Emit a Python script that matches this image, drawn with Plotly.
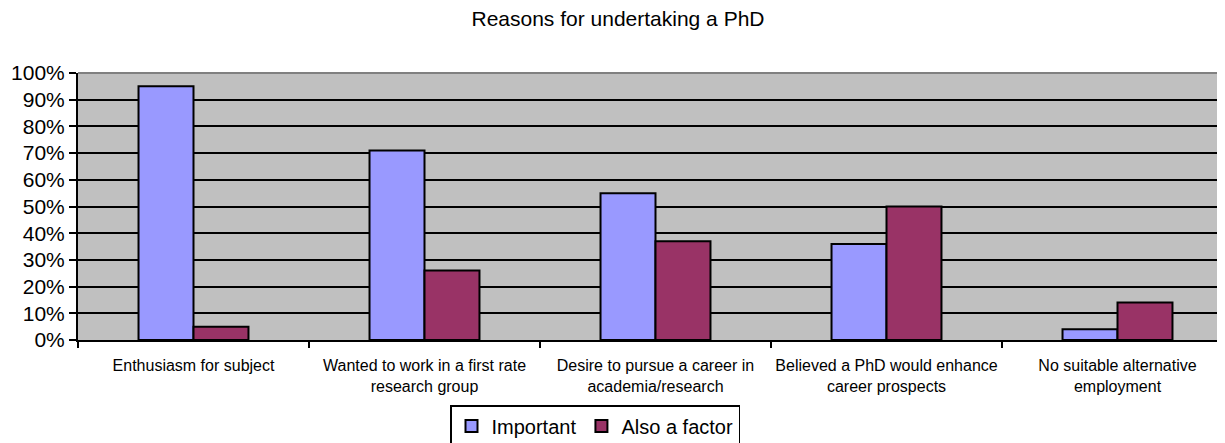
import plotly.graph_objects as go

categories = [
    "Enthusiasm for subject",
    "Wanted to work in a first rate<br>research group",
    "Desire to pursue a career in<br>academia/research",
    "Believed a PhD would enhance<br>career prospects",
    "No suitable alternative<br>employment",
]
important = [0.95, 0.71, 0.55, 0.36, 0.04]
also_factor = [0.05, 0.26, 0.37, 0.50, 0.14]
y_ticks = [0, 0.1, 0.2, 0.3, 0.4, 0.5, 0.6, 0.7, 0.8, 0.9, 1.0]
y_tick_labels = ["0%", "10%", "20%", "30%", "40%", "50%", "60%", "70%", "80%", "90%", "100%"]

FONT = "Liberation Sans, Arial, sans-serif"
OFF = 8  # page body margin
W, H = 1225 - OFF, 443 - OFF
L, R, T = 78 - OFF, 0, 73 - OFF
B = H - (340 - OFF)

fig = go.Figure()
fig.add_trace(go.Bar(x=categories, y=important, name="Important",
                     marker=dict(color="#9999FF", line=dict(color="black", width=2))))
fig.add_trace(go.Bar(x=categories, y=also_factor, name="Also a factor",
                     marker=dict(color="#993366", line=dict(color="black", width=2))))

plot_w = W - L - R
plot_h = H - T - B
cat_w = 231.0
span = plot_w / cat_w

fig.update_layout(
    width=W, height=H,
    margin=dict(l=L, r=R, t=T, b=B, pad=0, autoexpand=False),
    paper_bgcolor="white",
    plot_bgcolor="#C0C0C0",
    font=dict(family=FONT, color="black"),
    barmode="group",
    bargap=0.524,
    bargroupgap=0,
    title=dict(text="Reasons for undertaking a PhD", x=(618 - OFF) / W, xanchor="center",
               y=1 - (19 - OFF) / H, yanchor="middle", yref="container",
               font=dict(size=21, family=FONT, color="black")),
    legend=dict(orientation="h", x=(450 - 78) / plot_w, xanchor="left",
                y=-(405 - 340) / plot_h, yanchor="top",
                bgcolor="white", bordercolor="black", borderwidth=1.5,
                font=dict(size=20, family=FONT), itemwidth=30,
                tracegroupgap=0),
    showlegend=True,
)
fig.update_xaxes(
    type="category",
    range=[-0.5, -0.5 + span],
    automargin=False,
    tickangle=0,
    showline=True, linecolor="black", linewidth=2,
    ticks="outside", tickson="boundaries", ticklen=6, tickwidth=2, tickcolor="black",
    ticklabelstandoff=10,
    tickfont=dict(size=16, family=FONT),
    showgrid=False,
)
fig.update_yaxes(
    range=[0, 1],
    automargin=False,
    tickvals=y_ticks, ticktext=y_tick_labels,
    showline=True, linecolor="black", linewidth=2,
    ticks="outside", ticklen=7, tickwidth=2, tickcolor="black",
    tickfont=dict(size=21, family=FONT),
    showgrid=True, gridcolor="black", gridwidth=2,
    zeroline=False,
)
fig.add_shape(type="line", xref="paper", yref="paper", x0=0, x1=1, y0=1, y1=1,
              line=dict(color="#808080", width=2), layer="above")

fig.write_html("out.html")
